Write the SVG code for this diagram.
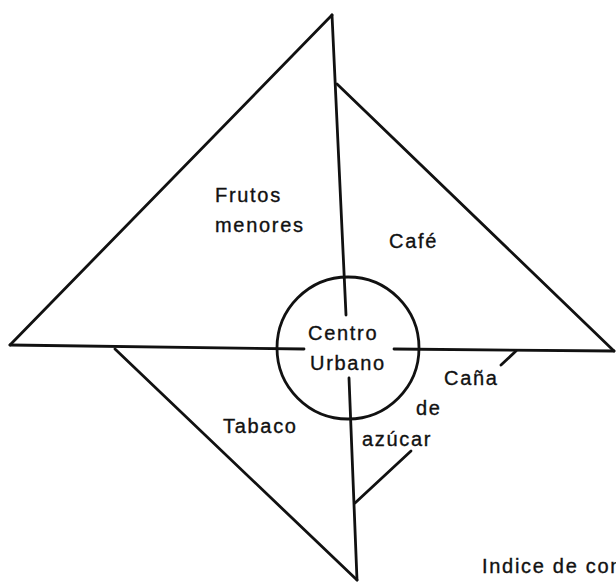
<svg xmlns="http://www.w3.org/2000/svg" width="616" height="584" viewBox="0 0 616 584">
<style>
.ln{stroke:#111;stroke-width:2.8;fill:none;stroke-linecap:round;stroke-linejoin:round}
.t{font-family:"Liberation Sans",Arial,sans-serif;font-size:20px;fill:#111;stroke:#111;stroke-width:0.35;letter-spacing:1.7px}
</style>
<rect width="616" height="584" fill="#fff"/>
<g id="connectors">
<line class="ln" x1="332" y1="15" x2="346" y2="315"/>
<line class="ln" x1="349" y1="378" x2="357" y2="580"/>
<line class="ln" x1="10" y1="345" x2="304" y2="349"/>
<line class="ln" x1="394" y1="349" x2="614" y2="351"/>
</g>
<g id="frutos-menores">
<line class="ln" x1="332" y1="15" x2="10" y2="345"/>
<text class="t" x="215" y="202">Frutos</text>
<text class="t" x="215" y="232">menores</text>
</g>
<g id="cafe">
<line class="ln" x1="337" y1="84" x2="614" y2="351"/>
<text class="t" x="389" y="248">Café</text>
</g>
<g id="tabaco">
<line class="ln" x1="115" y1="349" x2="357" y2="580"/>
<text class="t" x="223" y="433">Tabaco</text>
</g>
<g id="cana-de-azucar">
<line class="ln" x1="516" y1="351" x2="501" y2="365"/>
<line class="ln" x1="411" y1="451" x2="355" y2="503"/>
<text class="t" x="444" y="385">Caña</text>
<text class="t" x="416" y="415">de</text>
<text class="t" x="362" y="446">azúcar</text>
</g>
<g id="centro-urbano">
<circle class="ln" cx="348" cy="348" r="71"/>
<text class="t" x="308" y="340">Centro</text>
<text class="t" x="310" y="370">Urbano</text>
</g>
<g id="caption">
<text class="t" x="482" y="573">Indice de con</text>
</g>
</svg>
